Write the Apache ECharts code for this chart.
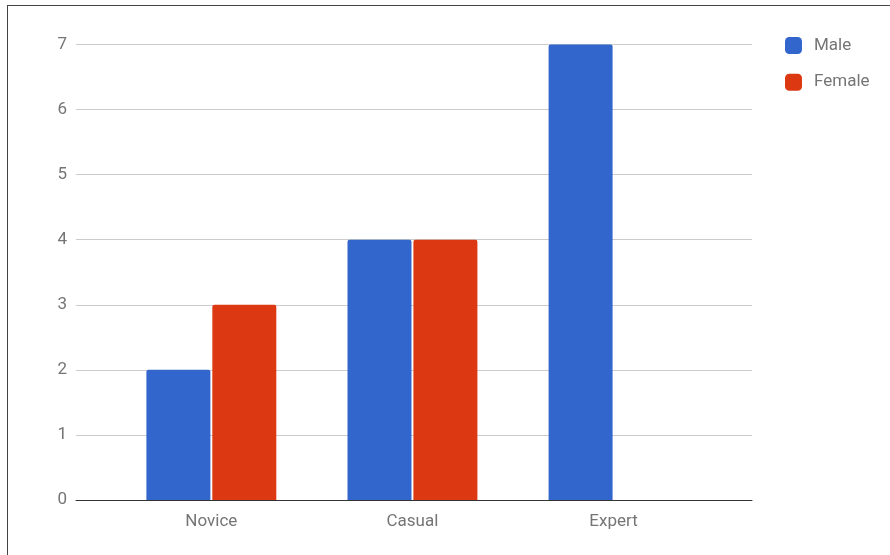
<!DOCTYPE html>
<html>
<head>
<meta charset="utf-8">
<script src="https://cdn.jsdelivr.net/npm/echarts@6/dist/echarts.min.js"></script>
<style>
  html, body { margin: 0; padding: 0; background: #fff; }
  #chart { width: 890px; height: 555px; position: absolute; left: 0; top: 0; }
  #frame { position: absolute; left: 7px; top: 5px; width: 900px; height: 600px;
           border-left: 1px solid #444; border-top: 1px solid #444; pointer-events: none; }
</style>
</head>
<body>
<div id="chart"></div>
<div id="frame"></div>
<script>
const categories = ['Novice', 'Casual', 'Expert'];
const maleValues = [2, 4, 7];
const femaleValues = [3, 4, 0];
const seriesNames = ['Male', 'Female'];
const yTicks = [0, 1, 2, 3, 4, 5, 6, 7];

const textColor = '#757575';
const font = 'Roboto, "Noto Sans", Arial, sans-serif';

const chart = echarts.init(document.getElementById('chart'), null, { renderer: 'canvas' });
chart.setOption({
  animation: false,
  backgroundColor: '#fff',
  textStyle: { fontFamily: font },
  legend: {
    orient: 'vertical',
    left: 785, top: 37,
    padding: 0,
    itemWidth: 17, itemHeight: 17, itemGap: 19.7,
    icon: 'roundRect',
    textStyle: { fontSize: 17, color: textColor, fontFamily: font, padding: [0, 0, 0, 7] },
    data: seriesNames
  },
  grid: [
    { left: 76, right: 138, top: 44.5, bottom: 55, containLabel: false },
    { left: 110.8, width: 603.3, top: 44.5, bottom: 55, containLabel: false }
  ],
  xAxis: [
    { gridIndex: 0, type: 'category', data: categories,
      axisLine: { show: true, lineStyle: { color: '#333', width: 1 } },
      axisTick: { show: false }, axisLabel: { show: false }, splitLine: { show: false } },
    { gridIndex: 1, type: 'category', data: categories,
      axisLine: { show: false }, axisTick: { show: false },
      axisLabel: { fontSize: 17, color: textColor, margin: 13, fontFamily: font } }
  ],
  yAxis: [
    { gridIndex: 0, type: 'value', min: yTicks[0], max: yTicks[yTicks.length - 1], interval: 1,
      axisLine: { show: false }, axisTick: { show: false },
      axisLabel: { fontSize: 17, color: textColor, margin: 9, fontFamily: font },
      splitLine: { lineStyle: { color: '#cccccc', width: 1 } } },
    { gridIndex: 1, type: 'value', min: yTicks[0], max: yTicks[yTicks.length - 1], interval: 1,
      show: false, splitLine: { show: false } }
  ],
  series: [
    { name: seriesNames[0], type: 'bar', xAxisIndex: 1, yAxisIndex: 1, data: maleValues,
      barWidth: 64, barGap: '3%',
      itemStyle: { color: '#3366cc', borderRadius: [2, 2, 0, 0] } },
    { name: seriesNames[1], type: 'bar', xAxisIndex: 1, yAxisIndex: 1, data: femaleValues,
      barWidth: 64, barGap: '3%',
      itemStyle: { color: '#dc3912', borderRadius: [2, 2, 0, 0] } }
  ]
});
</script>
</body>
</html>
